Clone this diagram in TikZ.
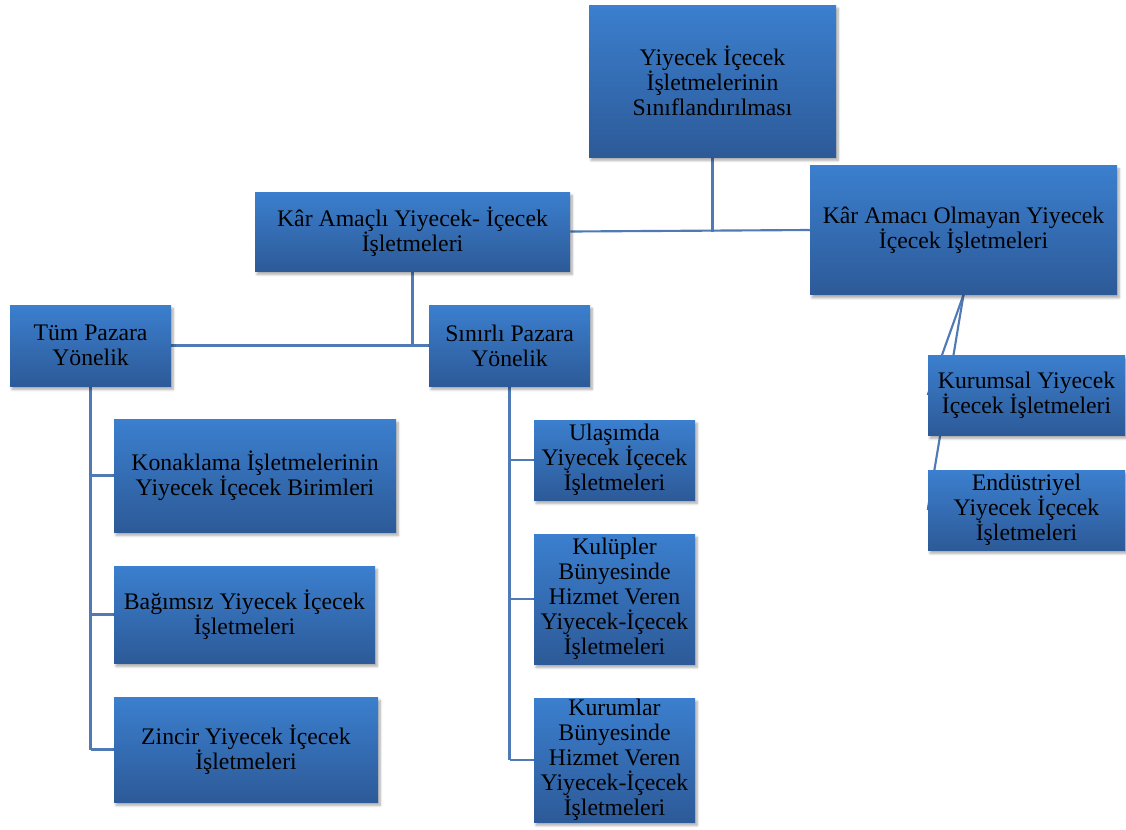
\documentclass[tikz,border=0pt]{standalone}
\usepackage{fontspec}
\setmainfont{Liberation Serif}
\usepackage{xcolor}
\usepackage{tikz}
\usetikzlibrary{positioning,backgrounds,shadows.blur}

\definecolor{boxtop}{RGB}{59,127,206}
\definecolor{boxbot}{RGB}{45,90,152}
\definecolor{linkblue}{RGB}{79,122,181}

\tikzset{
  box/.style={rectangle, inner sep=0pt, align=center,
    top color=boxtop, bottom color=boxbot, draw=none,
    blur shadow={shadow xshift=1.5pt, shadow yshift=-2.5pt, shadow blur steps=6, shadow opacity=35},
    font=\fontsize{17.8}{18.8}\selectfont},
  size/.style 2 args={minimum width=#1*0.75pt, minimum height=#2*0.75pt},
  link/.style={linkblue, line width=1.6pt}
}

\begin{document}
\begin{tikzpicture}[x=0.75pt, y=-0.75pt]
\useasboundingbox (0,0) rectangle (1126,829);
\node[box, size={247}{152}] (root) at (712.5,81) {Yiyecek İçecek\\İşletmelerinin\\Sınıflandırılması};
\node[box, size={315}{79}] (kar) at (412.5,231.5) {Kâr Amaçlı Yiyecek- İçecek\\İşletmeleri};
\node[box, size={307}{129}] (karsiz) at (963.5,230) {Kâr Amacı Olmayan Yiyecek\\İçecek İşletmeleri};
\node[box, size={161}{81}] (tum) at (90.5,345.5) {Tüm Pazara\\Yönelik};
\node[box, size={161}{81}] (sinirli) at (509.5,345.5) {Sınırlı Pazara\\Yönelik};
\node[box, size={282}{113}] (konak) at (255,475.5) {Konaklama İşletmelerinin\\Yiyecek İçecek Birimleri};
\node[box, size={261}{97}] (bagimsiz) at (244.5,614.5) {Bağımsız Yiyecek İçecek\\İşletmeleri};
\node[box, size={264}{105}] (zincir) at (246,749.5) {Zincir Yiyecek İçecek\\İşletmeleri};
\node[box, size={161}{80}] (ulasim) at (614.5,460) {Ulaşımda\\Yiyecek İçecek\\İşletmeleri};
\node[box, size={161}{130}] (kulup) at (614.5,599) {Kulüpler\\Bünyesinde\\Hizmet Veren\\Yiyecek-İçecek\\İşletmeleri};
\node[box, size={161}{124}] (kurum) at (614.5,760) {Kurumlar\\Bünyesinde\\Hizmet Veren\\Yiyecek-İçecek\\İşletmeleri};
\node[box, size={197}{80}] (kurumsal) at (1026.5,395) {Kurumsal Yiyecek\\İçecek İşletmeleri};
\node[box, size={197}{80}] (endus) at (1026.5,510) {Endüstriyel\\Yiyecek İçecek\\İşletmeleri};

\begin{scope}[on background layer]
% first level
\draw[link] (root.south) -- (root.south |- kar.east);
\draw[link] (kar.east) -- (karsiz.west);
% second level
\draw[link] (kar.south) -- (kar.south |- tum.east);
\draw[link] (tum.east) -- (sinirli.west);
% left column
\draw[link] (tum.south) -- (tum.south |- zincir.west);
\draw[link] (tum.south |- konak.west) -- (konak.west);
\draw[link] (tum.south |- bagimsiz.west) -- (bagimsiz.west);
\draw[link] (tum.south |- zincir.west) -- (zincir.west);
% middle column
\draw[link] (sinirli.south) -- (sinirli.south |- kurum.west);
\draw[link] (sinirli.south |- ulasim.west) -- (ulasim.west);
\draw[link] (sinirli.south |- kulup.west) -- (kulup.west);
\draw[link] (sinirli.south |- kurum.west) -- (kurum.west);
% right side
\draw[link] (karsiz.south) -- (kurumsal.west);
\draw[link] (karsiz.south) -- (endus.west);
\end{scope}
\end{tikzpicture}
\end{document}
